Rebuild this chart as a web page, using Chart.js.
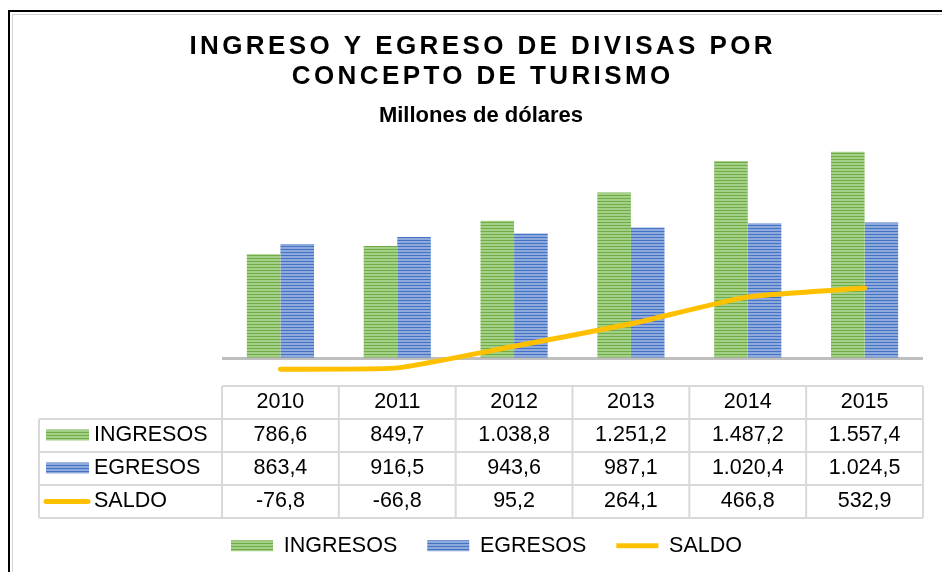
<!DOCTYPE html>
<html>
<head>
<meta charset="utf-8">
<script src="https://cdn.jsdelivr.net/npm/chart.js@4.4.1/dist/chart.umd.min.js"></script>
<style>
  html, body { margin: 0; padding: 0; background: #fff; }
  canvas { display: block; }
</style>
</head>
<body>
<canvas id="chart" width="942" height="572"></canvas>
<script>
const years = ['2010', '2011', '2012', '2013', '2014', '2015']
const ingresos = [786.6, 849.7, 1038.8, 1251.2, 1487.2, 1557.4]
const egresos = [863.4, 916.5, 943.6, 987.1, 1020.4, 1024.5]
const saldo = [-76.8, -66.8, 95.2, 264.1, 466.8, 532.9]

const titleLines = ['INGRESO Y EGRESO DE DIVISAS POR', 'CONCEPTO DE TURISMO']
const subtitle = 'Millones de dólares'

const FONT = "'Liberation Sans', Arial, sans-serif"

// striped fill like the excel bars
function stripes(light, dark) {
  const c = document.createElement('canvas')
  c.width = 4
  c.height = 3
  const g = c.getContext('2d')
  g.fillStyle = light
  g.fillRect(0, 0, 4, 3)
  g.fillStyle = dark
  g.fillRect(0, 0, 4, 1)
  return g.createPattern(c, 'repeat')
}

const greenFill = stripes('#a3cf87', '#70ad47')
const blueFill = stripes('#8eaadc', '#4472c4')
const YELLOW = '#ffc000'

function fmt(v) {
  const neg = v < 0
  let [i, d] = Math.abs(v).toFixed(1).split('.')
  i = i.replace(/\B(?=(\d{3})+(?!\d))/g, '.')
  return (neg ? '-' : '') + i + ',' + d
}

const rows = [
  { label: 'INGRESOS', values: ingresos, fill: greenFill },
  { label: 'EGRESOS', values: egresos, fill: blueFill },
  { label: 'SALDO', values: saldo, line: YELLOW }
]

// frame, title and the data table under the plot
const extras = {
  id: 'extras',
  beforeDraw(chart) {
    const ctx = chart.ctx
    ctx.save()
    ctx.fillStyle = '#000'
    ctx.fillRect(8, 10, 942, 2)
    ctx.fillRect(8, 10, 2, 572)
    ctx.fillStyle = '#d4d4d4'
    ctx.fillRect(12, 14, 942, 1)
    ctx.fillRect(12, 14, 1, 572)
    ctx.restore()
  },
  afterDraw(chart) {
    const ctx = chart.ctx
    const x = chart.scales.x
    const area = chart.chartArea
    ctx.save()

    // title
    ctx.fillStyle = '#000'
    ctx.textAlign = 'center'
    ctx.textBaseline = 'middle'
    ctx.font = 'bold 26px ' + FONT
    ctx.letterSpacing = '3.4px'
    ctx.fillText(titleLines[0], 481 + 1.7, 47)
    ctx.fillText(titleLines[1], 481 + 1.7, 77)
    ctx.letterSpacing = '0px'
    ctx.font = 'bold 22px ' + FONT
    ctx.fillText(subtitle, 481, 116)

    // data table
    const colW = (x.right - x.left) / years.length
    const top = Math.round(area.bottom)
    const rowH = 33
    const leftX = 39
    const bottom = top + rowH * 4
    ctx.strokeStyle = '#d9d9d9'
    ctx.lineWidth = 2
    ctx.beginPath()
    ctx.moveTo(x.left, top)
    ctx.lineTo(x.right, top)
    for (let r = 1; r <= 4; r++) {
      ctx.moveTo(leftX, top + rowH * r)
      ctx.lineTo(x.right, top + rowH * r)
    }
    ctx.moveTo(leftX, top + rowH)
    ctx.lineTo(leftX, bottom)
    for (let c = 0; c <= years.length; c++) {
      const cx = x.left + colW * c
      ctx.moveTo(cx, top)
      ctx.lineTo(cx, bottom)
    }
    ctx.stroke()

    ctx.font = '21.5px ' + FONT
    ctx.fillStyle = '#000'
    ctx.textAlign = 'center'
    years.forEach((yr, i) => {
      ctx.fillText(yr, x.getPixelForValue(i), top + rowH / 2)
    })
    rows.forEach((row, r) => {
      const cy = top + rowH * (r + 1) + rowH / 2
      if (row.fill) {
        ctx.fillStyle = row.fill
        ctx.fillRect(46, cy - 6, 43, 11)
      } else {
        ctx.strokeStyle = row.line
        ctx.lineWidth = 5
        ctx.lineCap = 'round'
        ctx.beginPath()
        ctx.moveTo(46, cy)
        ctx.lineTo(88, cy)
        ctx.stroke()
      }
      ctx.fillStyle = '#000'
      ctx.textAlign = 'left'
      ctx.fillText(row.label, 94, cy)
      ctx.textAlign = 'center'
      row.values.forEach((v, i) => {
        ctx.fillText(fmt(v), x.getPixelForValue(i), cy)
      })
    })
    ctx.restore()
  }
}

const chart = new Chart(document.getElementById('chart'), {
  type: 'bar',
  data: {
    labels: years,
    datasets: [
      { label: 'INGRESOS', data: ingresos, backgroundColor: greenFill, order: 1 },
      { label: 'EGRESOS', data: egresos, backgroundColor: blueFill, order: 1 },
      {
        type: 'line', label: 'SALDO', data: saldo, borderColor: YELLOW,
        backgroundColor: YELLOW, borderWidth: 5, pointRadius: 0,
        tension: 0.15, borderCapStyle: 'round', order: 0
      }
    ]
  },
  plugins: [extras],
  options: {
    responsive: false,
    animation: false,
    devicePixelRatio: 1,
    datasets: {
      bar: { barPercentage: 1, categoryPercentage: 0.575 }
    },
    layout: {
      padding: { left: 50, right: 19, top: 119.4, bottom: 9 }
    },
    scales: {
      x: {
        ticks: { display: false },
        grid: { display: false },
        border: { display: false },
        afterFit: s => { s.height = 119.4 }
      },
      y: {
        min: -200,
        max: 1800,
        ticks: { display: false, stepSize: 200 },
        grid: {
          drawTicks: false,
          color: c => c.tick && c.tick.value === 0 ? '#bfbfbf' : 'rgba(0,0,0,0)',
          lineWidth: 3
        },
        border: { display: false },
        afterFit: s => { s.width = 172 }
      }
    },
    plugins: {
      title: { display: false },
      tooltip: { enabled: false },
      legend: {
        position: 'bottom',
        maxHeight: 58,
        labels: {
          usePointStyle: true,
          pointStyleWidth: 42,
          boxHeight: 11,
          padding: 30,
          color: '#000',
          font: { family: FONT, size: 21.5 },
          generateLabels: () => [
            { text: 'INGRESOS', fillStyle: greenFill, strokeStyle: greenFill, lineWidth: 0, pointStyle: 'rect', datasetIndex: 0, hidden: false },
            { text: 'EGRESOS', fillStyle: blueFill, strokeStyle: blueFill, lineWidth: 0, pointStyle: 'rect', datasetIndex: 1, hidden: false },
            { text: 'SALDO', fillStyle: YELLOW, strokeStyle: YELLOW, lineWidth: 5, pointStyle: 'line', datasetIndex: 2, hidden: false }
          ]
        }
      }
    }
  }
})
</script>
</body>
</html>
